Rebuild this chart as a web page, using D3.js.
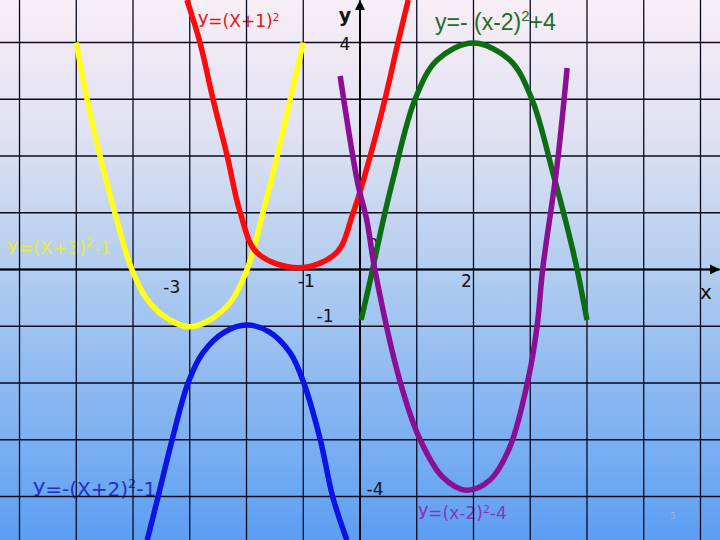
<!DOCTYPE html>
<html><head><meta charset="utf-8">
<script src="https://cdn.jsdelivr.net/npm/d3@7"></script>
<style>body{margin:0;background:#fff}svg{display:block}</style>
</head><body>
<script>
// ---- data (in graph units) ----
const gridX = [-6,-5,-4,-3,-2,-1,0,1,2,3,4,5,6];
const gridY = [-4,-3,-2,-1,0,1,2,3,4];
const xTickLabels = ["-3","-1","2"];
const xTickValues = [-3,-1,2];
const yTickLabels = ["4","-1","-4"];
const yTickValues = [4,-1,-4];

const yellowX = [-5,-4.81,-4.58,-4.32,-4.02,-3.72,-3.35,-3.0,-2.65,-2.28,-1.99,-1.71,-1.46,-1.23,-1.0];
const yellowY = [4,3,2,1,0,-0.57,-0.89,-1.01,-0.89,-0.57,0,1,2,3,4];

const redX = [-3.05,-2.82,-2.59,-2.34,-2.11,-1.81,-1.08,-0.42,-0.12,0.18,0.44,0.67,0.85];
const redY = [4.75,4.0,3.0,2.0,1.0,0.29,0.03,0.29,1.0,2.0,3.0,4.0,4.75];

const greenX = [0.02,0.18,0.41,0.58,0.97,1.36,1.99,2.64,3.03,3.40,3.65,3.82,4.0];
const greenY = [-0.89,-0.19,0.87,1.58,3.0,3.69,3.99,3.69,3.0,1.70,0.75,0.03,-0.89];

const purpleX = [-0.35,-0.04,0.12,0.26,0.70,1.06,1.46,1.88,2.29,2.64,2.96,3.12,3.22,3.47,3.65];
const purpleY = [3.41,1.52,0.87,0.01,-1.95,-3.0,-3.66,-3.89,-3.71,-3.13,-1.95,-1.01,0.01,1.81,3.55];

const blueX = [-3.75,-3.56,-3.31,-3.03,-2.77,-2.38,-1.99,-1.60,-1.23,-0.99,-0.70,-0.48,-0.23];
const blueY = [-4.77,-4.01,-3.0,-2.0,-1.47,-1.10,-0.98,-1.10,-1.47,-2.0,-3.0,-4.01,-4.77];

const curveNames = ["У=(Х+3)","У=(Х+1)","y=- (x-2)","У=(х-2)","У=-(Х+2)"];
const curveTails = ["-1","","+4","-4","-1"];
const curveColors = ["#ffff1a","#ff0a0a","#0b6e12","#8a0f94","#0a14e6"];
const labelColors = ["#e6ea3a","#e01818","#1d6e22","#8a34b8","#2230c8"];

// ---- drawing ----
const W = 720, H = 540;
const x = d3.scaleLinear().domain([-6.344, 6.344]).range([0, W]);
const y = d3.scaleLinear().domain([-4.767, 4.749]).range([H, 0]);

const svg = d3.select("body").append("svg").attr("width", W).attr("height", H);
const defs = svg.append("defs");
const grad = defs.append("linearGradient").attr("id","bg").attr("x1",0).attr("y1",0).attr("x2",0).attr("y2",1);
grad.append("stop").attr("offset","0").attr("stop-color","#f8eef6");
grad.append("stop").attr("offset","0.25").attr("stop-color","#e0e1f2");
grad.append("stop").attr("offset","0.5").attr("stop-color","#b2cdf0");
grad.append("stop").attr("offset","1").attr("stop-color","#5c9ef3");
svg.append("rect").attr("width",W).attr("height",H).attr("fill","url(#bg)");

defs.append("marker").attr("id","arr").attr("viewBox","0 0 10 10").attr("refX",9).attr("refY",5)
  .attr("markerWidth",5).attr("markerHeight",5).attr("orient","auto")
  .append("path").attr("d","M0,0L10,5L0,10z").attr("fill","#000");

// curve labels (under the grid)
const labelPos = [[7,254,18],[198,27,17],[435,30,23],[418,519,17],[33,496,20]];
curveNames.forEach((n,i)=>{
  const fs = labelPos[i][2];
  const t = svg.append("text").attr("x",labelPos[i][0]).attr("y",labelPos[i][1])
    .attr("font-family", i===2 ? "'Liberation Sans', Arial, sans-serif" : "'DejaVu Sans', sans-serif")
    .attr("font-size",fs).attr("fill",labelColors[i]);
  t.append("tspan").text(n);
  t.append("tspan").attr("font-size",fs*0.65).attr("dy",-fs*0.38).text("2");
  if(curveTails[i]) t.append("tspan").attr("dy",fs*0.38).text(curveTails[i]);
});

// grid
const gv = svg.append("g").attr("class","gridx");
gv.selectAll("line").data(gridX).join("line")
  .attr("x1",d=>x(d)).attr("x2",d=>x(d)).attr("y1",0).attr("y2",H)
  .attr("stroke","#0a0a1e").attr("stroke-width",1.3);
const gh = svg.append("g").attr("class","gridy");
gh.selectAll("line").data(gridY).join("line")
  .attr("y1",d=>y(d)).attr("y2",d=>y(d)).attr("x1",0).attr("x2",W)
  .attr("stroke","#0a0a1e").attr("stroke-width",1.3);

// axes
svg.append("line").attr("x1",0).attr("x2",W-1).attr("y1",y(0)).attr("y2",y(0))
  .attr("stroke","#000").attr("stroke-width",2).attr("marker-end","url(#arr)");
svg.append("line").attr("x1",x(0)).attr("x2",x(0)).attr("y1",H).attr("y2",1)
  .attr("stroke","#000").attr("stroke-width",2).attr("marker-end","url(#arr)");

// tick labels
const tf = "'DejaVu Sans', Tahoma, sans-serif";
const xOff = [[-18,24],[3,18],[-7,18]];
xTickValues.forEach((v,i)=>{
  svg.append("text").attr("x",x(v)+xOff[i][0]).attr("y",y(0)+xOff[i][1])
    .attr("text-anchor","middle").attr("font-family",tf).attr("font-size",17).attr("fill","#111")
    .text(xTickLabels[i]);
});
const yOff = [[-15,7],[-35,-4],[15,-1]];
yTickValues.forEach((v,i)=>{
  svg.append("text").attr("x",x(0)+yOff[i][0]).attr("y",y(v)+yOff[i][1])
    .attr("text-anchor","middle").attr("font-family",tf).attr("font-size",17).attr("fill","#111")
    .text(yTickLabels[i]);
});
svg.append("text").attr("x",x(0)+13).attr("y",y(0)-19).attr("text-anchor","middle")
  .attr("font-family",tf).attr("font-size",16).attr("fill","#111").text("0");
svg.append("text").attr("x",x(0)-15).attr("y",22).attr("text-anchor","middle")
  .attr("font-family",tf).attr("font-weight","bold").attr("font-size",19).attr("fill","#111").text("у");
svg.append("text").attr("x",W-14).attr("y",y(0)+30).attr("text-anchor","middle")
  .attr("font-family",tf).attr("font-size",20).attr("fill","#111").text("x");
svg.append("text").attr("x",673).attr("y",519).attr("text-anchor","middle")
  .attr("font-family",tf).attr("font-size",9).attr("fill","#8fb6ee").text("5");

// curves
const line = d3.line().x(d=>x(d[0])).y(d=>y(d[1])).curve(d3.curveCatmullRom.alpha(0.5));
const series = [[yellowX,yellowY],[redX,redY],[greenX,greenY],[purpleX,purpleY],[blueX,blueY]];
series.forEach((s,i)=>{
  const pts = s[0].map((v,k)=>[v,s[1][k]]);
  svg.append("path").attr("d",line(pts)).attr("fill","none")
    .attr("stroke",curveColors[i]).attr("stroke-width",5.5).attr("stroke-linecap","butt");
});
</script>
</body></html>
